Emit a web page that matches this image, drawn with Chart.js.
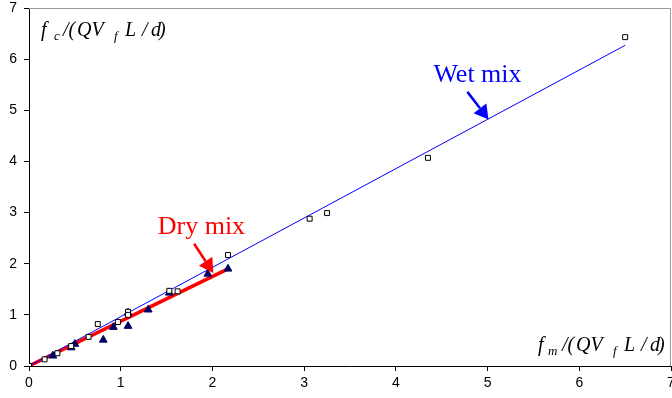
<!DOCTYPE html>
<html>
<head>
<meta charset="utf-8">
<script src="https://cdn.jsdelivr.net/npm/chart.js@4/dist/chart.umd.min.js"></script>
<style>
  html, body { margin: 0; padding: 0; background: #fff; }
  #wrap { width: 672px; height: 398px; }
</style>
</head>
<body>
<div id="wrap"><canvas id="chart"></canvas></div>
<script>
// wet mix measurements (squares)
const wetX = [0, 0.17, 0.31, 0.46, 0.65, 0.75, 0.97, 1.08, 1.08, 1.53, 1.62, 2.17, 3.06, 3.25, 4.35, 6.5];
const wetY = [0, 0.13, 0.25, 0.39, 0.57, 0.82, 0.86, 1.06, 1.0, 1.47, 1.46, 2.17, 2.88, 2.99, 4.07, 6.43];

// dry mix measurements (triangles)
const dryX = [0, 0.26, 0.46, 0.5, 0.81, 0.92, 1.08, 1.08, 1.3, 1.53, 1.95, 2.17];
const dryY = [0, 0.2, 0.36, 0.43, 0.51, 0.76, 0.78, 1.04, 1.1, 1.43, 1.8, 1.9];

// fitted lines (end points)
const wetFitX = [0, 6.5];
const wetFitY = [0, 6.27];
const dryFitX = [0, 2.17];
const dryFitY = [0, 1.9];

const xTicks = [0, 1, 2, 3, 4, 5, 6, 7];
const yTicks = [0, 1, 2, 3, 4, 5, 6, 7];

// annotations: label, text anchor, arrow start, arrow tip (data units)
const notes = [
    { text: 'Wet mix', color: '#0000ff', at: [4.89, 5.55], from: [4.78, 5.36], to: [5.01, 4.82] },
    { text: 'Dry mix', color: '#ff0000', at: [1.88, 2.58], from: [1.80, 2.39], to: [2.01, 1.82] }
];

const pts = (xs, ys) => xs.map((x, i) => ({ x: x, y: ys[i] }));

// draws "f_sub /(QV_f L / d)" with small subscripts; [text, subscript?, offset]
function drawTitle(ctx, x, y, sub, subOff, gap) {
    const parts = [
        ['f', false, 0], [sub, true, subOff], ['/(', false, 22 + gap], ['QV', false, 36 + gap],
        ['f', true, 73 + gap], ['L', false, 84 + gap], ['/', false, 101 + gap], ['d', false, 110 + gap], [')', false, 118 + gap]
    ];
    ctx.fillStyle = '#000';
    ctx.textBaseline = 'alphabetic';
    ctx.textAlign = 'left';
    parts.forEach(p => {
        ctx.font = p[1] ? 'italic 13px "Liberation Serif"' : 'italic 20px "Liberation Serif"';
        ctx.fillText(p[0], x + p[2], p[1] ? y + 4 : y);
    });
}

function arrow(ctx, x1, y1, x2, y2, color) {
    const ang = Math.atan2(y2 - y1, x2 - x1);
    const head = 14, half = 8;
    const bx = x2 - head * Math.cos(ang), by = y2 - head * Math.sin(ang);
    ctx.strokeStyle = color;
    ctx.fillStyle = color;
    ctx.lineWidth = 2.5;
    ctx.beginPath();
    ctx.moveTo(x1, y1);
    ctx.lineTo(bx, by);
    ctx.stroke();
    ctx.beginPath();
    ctx.moveTo(x2, y2);
    ctx.lineTo(bx + half * Math.sin(ang), by - half * Math.cos(ang));
    ctx.lineTo(bx - half * Math.sin(ang), by + half * Math.cos(ang));
    ctx.closePath();
    ctx.fill();
}

const extras = {
    id: 'extras',
    beforeDatasetsDraw(chart) {
        const { ctx, chartArea: a } = chart;
        ctx.save();
        ctx.strokeStyle = '#9a9a9a';
        ctx.lineWidth = 1;
        ctx.beginPath();
        ctx.moveTo(a.left, a.top + 0.5);
        ctx.lineTo(a.right - 0.5, a.top + 0.5);
        ctx.lineTo(a.right - 0.5, a.bottom);
        ctx.stroke();
        ctx.restore();
    },
    afterDatasetsDraw(chart) {
        const { ctx, scales: { x, y } } = chart;
        ctx.save();
        drawTitle(ctx, 41, 36, 'c', 13, 0);
        drawTitle(ctx, 538, 351, 'm', 10, 2);
        notes.forEach(n => {
            ctx.font = '26px "Liberation Serif"';
            ctx.fillStyle = n.color;
            ctx.textAlign = 'center';
            ctx.textBaseline = 'alphabetic';
            ctx.fillText(n.text, x.getPixelForValue(n.at[0]), y.getPixelForValue(n.at[1]));
            arrow(ctx, x.getPixelForValue(n.from[0]), y.getPixelForValue(n.from[1]),
                x.getPixelForValue(n.to[0]), y.getPixelForValue(n.to[1]), n.color);
        });
        ctx.restore();
    }
};

new Chart('chart', {
    type: 'scatter',
    data: {
        datasets: [
            {
                data: pts(wetX, wetY),
                pointStyle: 'rect',
                pointRadius: 3.5,
                backgroundColor: '#ffffff',
                borderColor: '#000000',
                borderWidth: 1
            },
            {
                data: pts(dryX, dryY),
                pointStyle: 'triangle',
                pointRadius: 4.5,
                backgroundColor: '#000066',
                borderColor: '#000066',
                borderWidth: 1
            },
            {
                data: pts(wetFitX, wetFitY),
                showLine: true,
                pointRadius: 0,
                borderColor: '#0000ff',
                borderWidth: 1
            },
            {
                data: pts(dryFitX, dryFitY),
                showLine: true,
                pointRadius: 0,
                borderColor: '#ff0000',
                borderWidth: 3.5
            }
        ]
    },
    options: {
        animation: false,
        responsive: true,
        maintainAspectRatio: false,
        layout: { autoPadding: false, padding: { top: 8, right: 1, left: 0, bottom: 0 } },
        plugins: {
            legend: { display: false },
            tooltip: { enabled: false }
        },
        scales: {
            x: {
                min: 0, max: 7,
                afterBuildTicks: s => { s.ticks = xTicks.map(v => ({ value: v })); },
                afterFit: s => { s.height = 32; s.paddingLeft = 0; s.paddingRight = 0; },
                ticks: { color: '#000', font: { family: 'Liberation Sans', size: 14 }, padding: 4 },
                grid: { drawOnChartArea: false, tickLength: 5, color: '#000' },
                border: { color: '#000', width: 1 }
            },
            y: {
                min: 0, max: 7,
                afterBuildTicks: s => { s.ticks = yTicks.map(v => ({ value: v })); },
                afterFit: s => { s.width = 29; s.paddingTop = 0; s.paddingBottom = 0; },
                ticks: { color: '#000', font: { family: 'Liberation Sans', size: 14 }, padding: 7 },
                grid: { drawOnChartArea: false, tickLength: 5, color: '#000' },
                border: { color: '#000', width: 1 }
            }
        }
    },
    plugins: [extras]
});
</script>
</body>
</html>
